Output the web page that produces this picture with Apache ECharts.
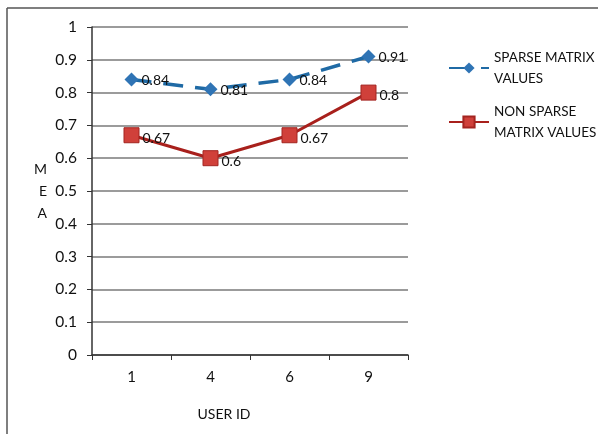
<!DOCTYPE html>
<html>
<head>
<meta charset="utf-8">
<script src="https://cdn.jsdelivr.net/npm/echarts@6/dist/echarts.min.js"></script>
<style>
  html, body { margin: 0; padding: 0; background: #fff; }
  #main { width: 598px; height: 434px; }
</style>
</head>
<body>
<div id="main"></div>
<script>
const userIds = ['1', '4', '6', '9']
const sparseValues = [0.84, 0.81, 0.84, 0.91]
const nonSparseValues = [0.67, 0.6, 0.67, 0.8]
const seriesNames = ['SPARSE MATRIX VALUES', 'NON SPARSE MATRIX VALUES']

const font = 'Lato, "Open Sans", sans-serif'
const chart = echarts.init(document.getElementById('main'))
chart.setOption({
  animation: false,
  backgroundColor: '#fff',
  textStyle: { fontFamily: font },
  grid: { left: 92, right: 190, top: 27, bottom: 79 },
  graphic: [
    // outer frame (left + top edge only, as in the picture)
    { type: 'line', shape: { x1: 7, y1: 8, x2: 7, y2: 434 }, style: { stroke: '#555', lineWidth: 1.5 } },
    { type: 'line', shape: { x1: 7, y1: 8, x2: 598, y2: 8 }, style: { stroke: '#555', lineWidth: 1.5 } }
  ],
  legend: {
    orient: 'vertical',
    left: 443,
    top: 42,
    itemWidth: 40,
    itemHeight: 14,
    itemGap: 12,
    data: seriesNames,
    formatter: function (name) {
      return name === seriesNames[0] ? 'SPARSE MATRIX\nVALUES' : 'NON SPARSE\nMATRIX VALUES'
    },
    textStyle: { fontSize: 13.5, color: '#111', lineHeight: 21, fontFamily: font }
  },
  xAxis: {
    type: 'category',
    data: userIds,
    name: 'USER ID',
    nameLocation: 'middle',
    nameGap: 52,
    nameTextStyle: { fontSize: 14, color: '#111', padding: [0, 52, 0, 0] },
    axisLine: { lineStyle: { color: '#333', width: 1.5 } },
    axisTick: { show: true, length: 5, lineStyle: { color: '#333' } },
    axisLabel: { fontSize: 15, color: '#111', margin: 15 }
  },
  yAxis: {
    type: 'value',
    min: 0,
    max: 1,
    interval: 0.1,
    name: 'M\nE\nA',
    nameLocation: 'middle',
    nameRotate: 0,
    nameGap: 45,
    nameTextStyle: { fontSize: 14, color: '#111', lineHeight: 22 },
    axisLine: { show: true, lineStyle: { color: '#333', width: 1.5 } },
    axisTick: { show: true, length: 5, lineStyle: { color: '#333' } },
    axisLabel: { fontSize: 15.5, color: '#111', margin: 15 },
    splitLine: { lineStyle: { color: '#7a7a7a', width: 1.5 } }
  },
  series: [
    {
      name: seriesNames[0],
      type: 'line',
      data: sparseValues,
      symbol: 'diamond',
      symbolSize: 14,
      itemStyle: { color: '#2f74b5' },
      lineStyle: { color: '#1f6aa5', width: 3.5, type: [20, 12] },
      label: { show: true, position: 'right', distance: 3, fontSize: 14, color: '#111', offset: [0, 1] }
    },
    {
      name: seriesNames[1],
      type: 'line',
      data: nonSparseValues,
      symbol: 'rect',
      symbolSize: 15,
      itemStyle: { color: '#d0403a', borderColor: '#a32420', borderWidth: 1 },
      lineStyle: { color: '#a8201c', width: 3 },
      label: { show: true, position: 'right', distance: 3, fontSize: 14, color: '#111', offset: [0, 3] }
    }
  ]
})
window.addEventListener('resize', function () {
  chart.resize()
})
</script>
</body>
</html>
